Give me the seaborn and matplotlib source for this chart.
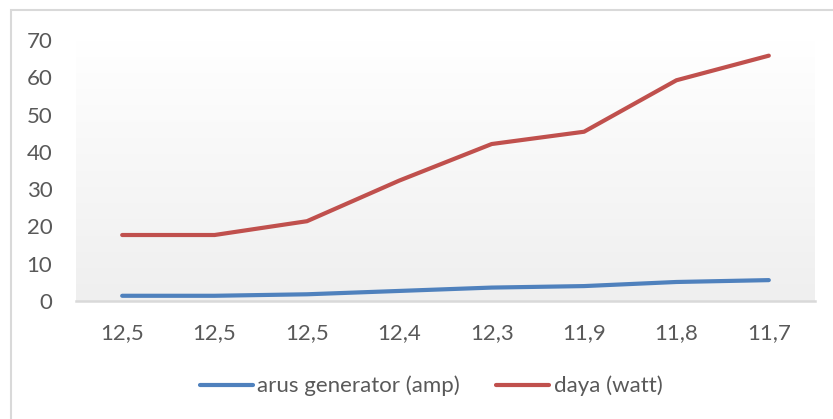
import numpy as np
import pandas as pd
import matplotlib
matplotlib.use("Agg")
import matplotlib.pyplot as plt
import seaborn as sns
from matplotlib.patches import Rectangle

# tegangan (label sumbu x), arus dan daya
tegangan = ["12,5", "12,5", "12,5", "12,4", "12,3", "11,9", "11,8", "11,7"]
arus = [1.4, 1.4, 1.8, 2.7, 3.6, 4.0, 5.1, 5.6]
daya = [17.7, 17.7, 21.4, 32.3, 42.1, 45.4, 59.2, 65.8]
seri = ["arus generator (amp)", "daya (watt)"]
warna = {"arus generator (amp)": "#4f81bd", "daya (watt)": "#c0504d"}

df = pd.concat([
    pd.DataFrame({"pos": range(len(tegangan)), "nilai": arus, "seri": seri[0]}),
    pd.DataFrame({"pos": range(len(tegangan)), "nilai": daya, "seri": seri[1]}),
])

sns.set_style("white")
plt.rcParams["font.family"] = ["Lato", "DejaVu Sans"]

W, H = 833, 419
fig = plt.figure(figsize=(W / 100, H / 100), dpi=100)
ax = fig.add_axes([76 / W, (H - 301) / H, (815 - 76) / W, (301 - 40) / H])

# border chart ala Excel
fig.patches.append(Rectangle((11 / W, -0.1), 1.2, (H - 10) / H + 0.1,
                             transform=fig.transFigure, fill=False,
                             edgecolor="#d9d9d9", linewidth=1.5))

# gradient plot area
grad = np.linspace(0, 1, 256).reshape(-1, 1)
ax.imshow(grad, extent=[0, 1, 0, 1], transform=ax.transAxes, aspect="auto",
          cmap=matplotlib.colors.LinearSegmentedColormap.from_list("g", ["#efefef", "#ffffff"]),
          origin="lower", zorder=0)

sns.lineplot(data=df, x="pos", y="nilai", hue="seri", palette=warna, ax=ax,
             linewidth=3.0, legend=False, zorder=3)
for l in ax.lines:
    l.set_solid_capstyle("round")

ax.set_xlim(-0.5, len(tegangan) - 0.5)
ax.set_ylim(0, 70)
ax.set_yticks(range(0, 71, 10))
ax.set_xticks(range(len(tegangan)))
ax.set_xticklabels(tegangan)
ax.set_xlabel("")
ax.set_ylabel("")
ax.tick_params(axis="both", length=0, labelsize=16, colors="#595959")
ax.tick_params(axis="y", pad=17)
ax.tick_params(axis="x", pad=16)
for s in ["top", "right", "left"]:
    ax.spines[s].set_visible(False)
ax.spines["bottom"].set_color("#d9d9d9")
ax.spines["bottom"].set_linewidth(1.8)
ax.spines["bottom"].set_zorder(4)

handles = [plt.Line2D([], [], color=warna[s], linewidth=3.0) for s in seri]
leg = fig.legend(handles, seri, loc="center", bbox_to_anchor=(431 / W, (H - 386) / H),
                 ncol=2, frameon=False, fontsize=16, handlelength=2.4,
                 handletextpad=0.2, columnspacing=1.6)
for t in leg.get_texts():
    t.set_color("#595959")

fig.savefig("out.png", dpi=100)
